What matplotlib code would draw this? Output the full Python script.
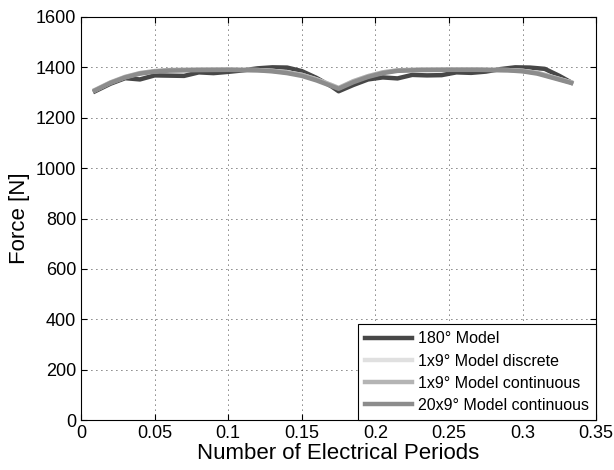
import matplotlib
matplotlib.use("Agg")
import matplotlib.pyplot as plt

# 180 deg model (dark line)
x_180 = [0.0095, 0.020, 0.030, 0.040, 0.050, 0.060, 0.070, 0.080, 0.090, 0.100,
         0.110, 0.120, 0.130, 0.140, 0.150, 0.160, 0.170, 0.175,
         0.185, 0.195, 0.205, 0.215, 0.225, 0.235, 0.245, 0.255, 0.265, 0.275,
         0.285, 0.295, 0.305, 0.315, 0.325, 0.333]
f_180 = [1305, 1335, 1357, 1352, 1368, 1367, 1366, 1380, 1377, 1382,
         1388, 1396, 1400, 1399, 1385, 1358, 1325, 1305,
         1330, 1352, 1360, 1356, 1370, 1368, 1369, 1380, 1378, 1383,
         1393, 1400, 1399, 1394, 1366, 1340]

# smooth models
x_cont = [0.0095, 0.020, 0.030, 0.040, 0.050, 0.060, 0.080, 0.100, 0.120, 0.130,
          0.140, 0.150, 0.160, 0.170, 0.175, 0.185, 0.195, 0.205, 0.215, 0.230,
          0.250, 0.270, 0.290, 0.300, 0.310, 0.320, 0.333]
f_disc = [1310, 1340, 1362, 1377, 1385, 1389, 1391, 1391, 1389, 1386,
          1380, 1370, 1352, 1330, 1318, 1345, 1365, 1380, 1388, 1391,
          1391, 1391, 1389, 1386, 1378, 1362, 1340]
f_1x9 = [1310, 1340, 1362, 1377, 1385, 1389, 1391, 1391, 1389, 1386,
         1380, 1370, 1352, 1330, 1318, 1345, 1365, 1380, 1388, 1391,
         1391, 1391, 1389, 1386, 1378, 1362, 1340]
f_20x9 = [1308, 1338, 1360, 1375, 1383, 1387, 1389, 1390, 1388, 1384,
          1377, 1366, 1348, 1326, 1315, 1341, 1362, 1377, 1386, 1389,
          1390, 1390, 1388, 1384, 1375, 1359, 1338]

plt.rcParams['font.family'] = ['Liberation Sans', 'DejaVu Sans']

fig = plt.figure(figsize=(6.14, 4.70), dpi=100)
ax = fig.add_axes([0.132, 0.106, 0.839, 0.858])

ax.plot(x_180, f_180, color='#474747', lw=3.2, label='180° Model')
ax.plot(x_cont, f_disc, color='#e0e0e0', lw=3.2, label='1x9° Model discrete')
ax.plot(x_cont, f_1x9, color='#b4b4b4', lw=3.2, label='1x9° Model continuous')
ax.plot(x_cont, f_20x9, color='#8c8c8c', lw=3.2, label='20x9° Model continuous')

ax.set_xlim(0, 0.35)
ax.set_ylim(0, 1600)
ax.set_xticks([0, 0.05, 0.1, 0.15, 0.2, 0.25, 0.3, 0.35])
ax.set_xticklabels(['0', '0.05', '0.1', '0.15', '0.2', '0.25', '0.3', '0.35'])
ax.set_yticks(range(0, 1601, 200))
ax.tick_params(direction='in', top=True, right=True, labelsize=13, length=4)
ax.grid(True, color='black', linestyle=(0, (1, 5)), linewidth=0.6)
ax.set_xlabel('Number of Electrical Periods', fontsize=16, labelpad=1)
ax.set_ylabel('Force [N]', fontsize=16)

leg = ax.legend(loc='lower right', fontsize=11.5, borderaxespad=0, fancybox=False,
                framealpha=1, edgecolor='black', handlelength=2.9,
                handletextpad=0.4, labelspacing=0.45, borderpad=0.45)
leg.get_frame().set_linewidth(0.8)

fig.savefig('out.png', dpi=100)
